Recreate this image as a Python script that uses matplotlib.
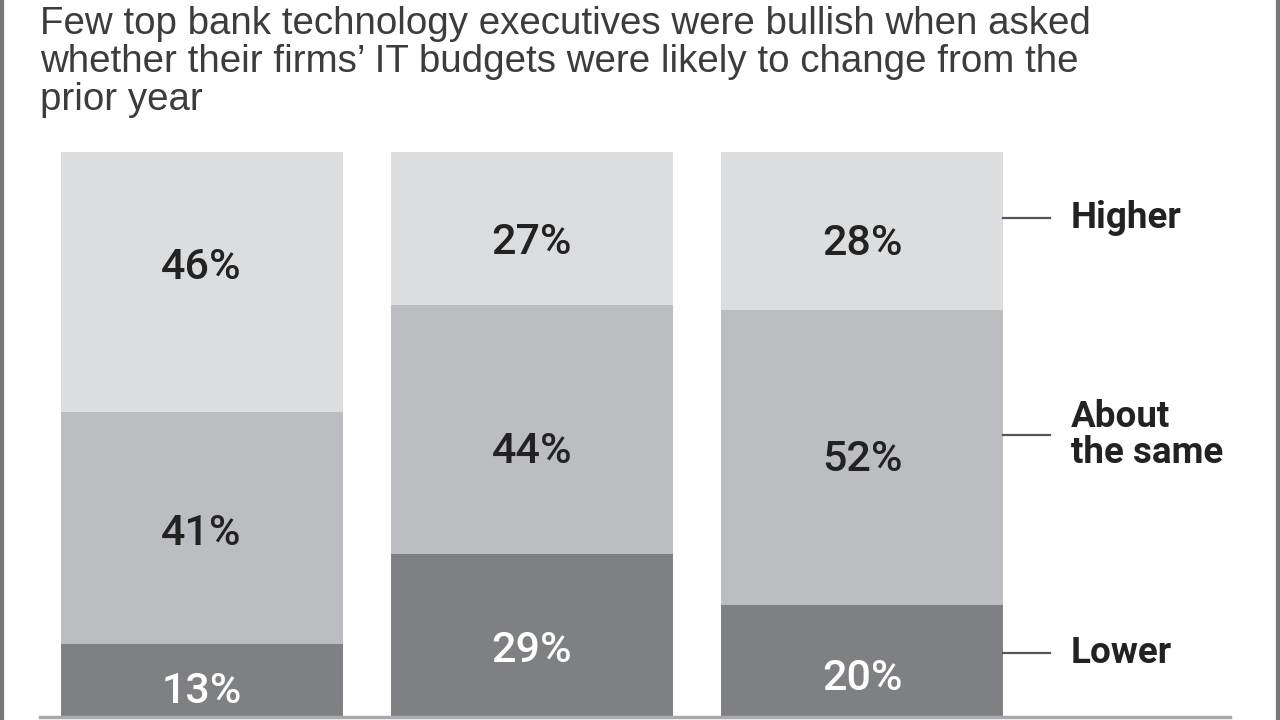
import matplotlib
matplotlib.use("Agg")
from matplotlib import pyplot as plt

# survey answers, one value per column (left to right)
categories = ["A", "B", "C"]
lower = [13, 29, 20]
same = [41, 44, 52]
higher = [46, 27, 28]
legend_labels = ["Lower", "About\nthe same", "Higher"]
title = ("Few top bank technology executives were bullish when asked\n"
         "whether their firms\u2019 IT budgets were likely to change from the\n"
         "prior year")

c_low = "#7f8084"
c_mid = "#bcbdc0"
c_high = "#dcdddf"

W, H = 1280, 720

# hand nudges of the value labels, pixels downward (lower, same, higher)
label_nudge = [[10, 5, -15], [15, 22, 14], [17, 2, 12]]


def main():
    fig = plt.figure(figsize=(W / 100, H / 100), dpi=100)
    fig.patch.set_facecolor("white")

    # axes spans the bar area in pixels: top at 152, bottom at 718
    top_px, bot_px = 152, 718
    px = (bot_px - top_px) / 100.0
    ax = fig.add_axes([0, (H - bot_px) / H, 1, (bot_px - top_px) / H])
    ax.set_facecolor("none")
    step = 330.25
    x0 = 201.5
    ax.set_xlim(-x0 / step, (W - x0) / step)
    ax.set_ylim(0, 100)
    ax.axis("off")

    xs = list(range(len(categories)))
    width = 282 / step
    ax.bar(xs, lower, width, color=c_low)
    ax.bar(xs, same, width, bottom=lower, color=c_mid)
    bottoms = [a + b for a, b in zip(lower, same)]
    ax.bar(xs, higher, width, bottom=bottoms, color=c_high)

    font = ["Roboto", "DejaVu Sans"]
    for i in xs:
        segs = [(0, lower[i], "white"), (lower[i], same[i], "#222222"),
                (bottoms[i], higher[i], "#222222")]
        for k, (b, v, col) in enumerate(segs):
            y = b + v / 2 - label_nudge[i][k] / px
            ax.text(i, y, "%d%%" % v, ha="center", va="center",
                    fontsize=31, fontweight="medium", color=col, family=font)

    # side labels next to the last column
    last = xs[-1]
    x_start = last + width / 2
    legend_y = [11.5, 50, 88.3]
    for y, lab in zip(legend_y, legend_labels):
        ax.plot([x_start, x_start + 47 / step], [y, y], color="#555555",
                lw=1.6, clip_on=False)
        ax.text(x_start + 68 / step, y, lab, ha="left", va="center",
                fontsize=26.5, fontweight="bold", color="#222222", family=font,
                linespacing=1.0, clip_on=False)

    fig.text(40 / W, 1 - 6 / H, title, ha="left", va="top", fontsize=27.7,
             color="#3c3c3c", family=["Liberation Sans", "DejaVu Sans"],
             linespacing=1.07)

    # frame bits: left / right rules and bottom baseline
    fig.add_artist(plt.Line2D([2 / W, 2 / W], [0, 1], color="#777777", lw=3))
    fig.add_artist(plt.Line2D([1278 / W, 1278 / W], [0, 1], color="#777777", lw=3))
    fig.add_artist(plt.Line2D([40 / W, 1230 / W], [3 / H, 3 / H],
                              color="#aaaaaa", lw=2.5))

    fig.savefig("out.png", dpi=100)


if __name__ == '__main__':
    main()
